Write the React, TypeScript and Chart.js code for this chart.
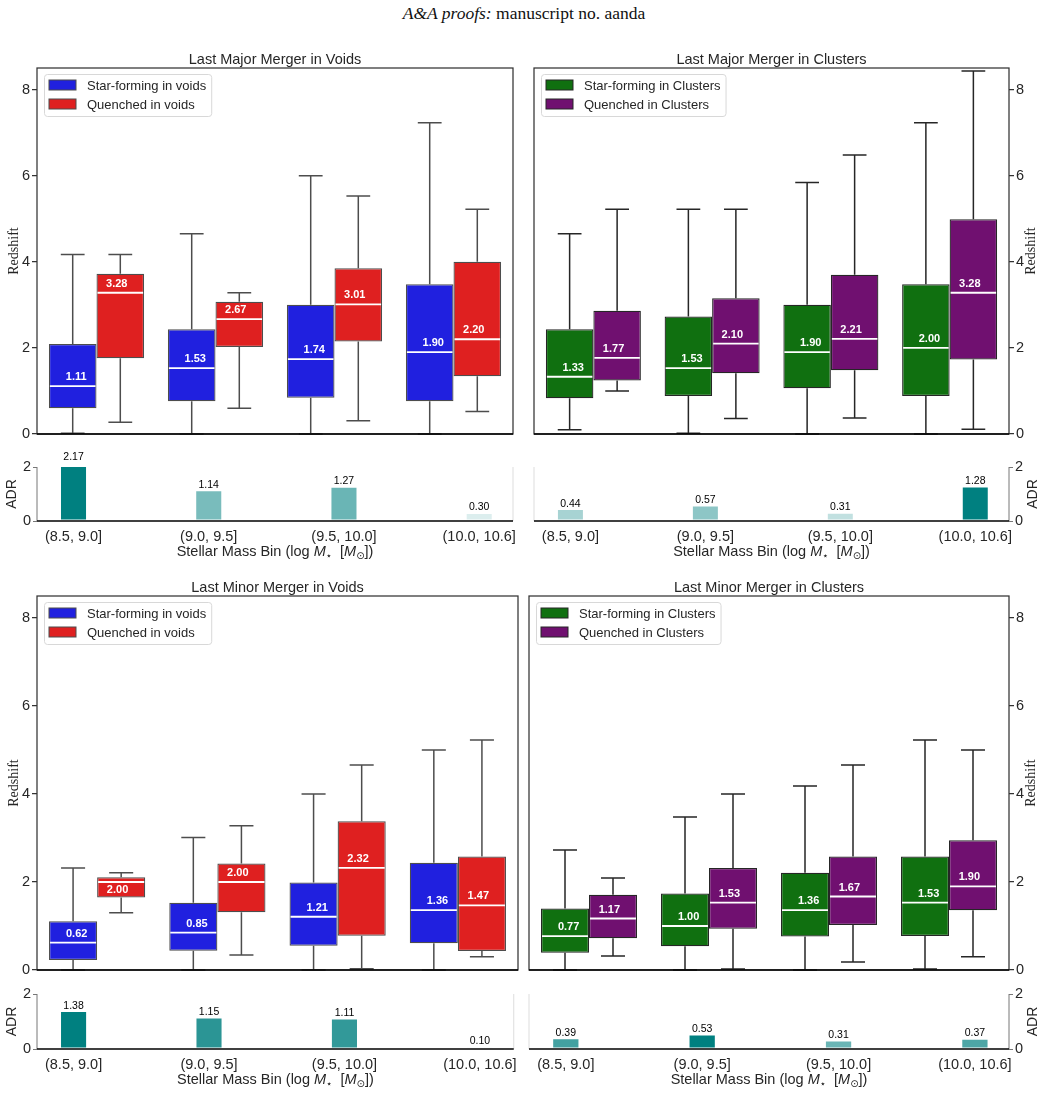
import React, { useEffect, useRef } from "react";
import { Chart, registerables } from "chart.js";

Chart.register(...registerables);

// ---------------- DATA ----------------
const massBins = ["(8.5, 9.0]", "(9.0, 9.5]", "(9.5, 10.0]", "(10.0, 10.6]"];
const redshiftTicks = [0, 2, 4, 6, 8];
const adrTicks = [0, 2];

// one row per mass bin: [lower whisker, Q1, median, Q3, upper whisker]
const majorVoidsStarForming = [
  [0.02, 0.6, 1.11, 2.09, 4.17],
  [0.0, 0.76, 1.53, 2.43, 4.65],
  [0.0, 0.84, 1.74, 3.0, 6.0],
  [0.0, 0.76, 1.9, 3.48, 7.23],
];
const majorVoidsQuenched = [
  [0.27, 1.76, 3.28, 3.72, 4.17],
  [0.6, 2.02, 2.67, 3.07, 3.28],
  [0.31, 2.15, 3.01, 3.85, 5.53],
  [0.52, 1.34, 2.2, 4.0, 5.22],
];
const majorClustersStarForming = [
  [0.1, 0.83, 1.33, 2.43, 4.65],
  [0.02, 0.88, 1.53, 2.73, 5.22],
  [0.0, 1.06, 1.9, 3.0, 5.84],
  [0.0, 0.88, 2.0, 3.48, 7.23],
];
const majorClustersQuenched = [
  [1.0, 1.24, 1.77, 2.86, 5.22],
  [0.36, 1.41, 2.1, 3.15, 5.22],
  [0.37, 1.48, 2.21, 3.7, 6.48],
  [0.11, 1.73, 3.28, 4.99, 8.43],
];
const minorVoidsStarForming = [
  [0.0, 0.23, 0.62, 1.11, 2.32],
  [0.0, 0.44, 0.85, 1.53, 3.01],
  [0.0, 0.55, 1.21, 1.99, 4.0],
  [0.0, 0.61, 1.36, 2.44, 5.0],
];
const minorVoidsQuenched = [
  [1.3, 1.65, 2.0, 2.11, 2.21],
  [0.34, 1.31, 2.0, 2.42, 3.28],
  [0.03, 0.78, 2.32, 3.38, 4.66],
  [0.3, 0.43, 1.47, 2.58, 5.23],
];
const minorClustersStarForming = [
  [0.0, 0.39, 0.77, 1.4, 2.73],
  [0.0, 0.54, 1.0, 1.74, 3.48],
  [0.0, 0.76, 1.36, 2.21, 4.18],
  [0.02, 0.77, 1.53, 2.58, 5.23],
];
const minorClustersQuenched = [
  [0.32, 0.72, 1.17, 1.71, 2.09],
  [0.02, 0.94, 1.53, 2.32, 4.0],
  [0.18, 1.02, 1.67, 2.58, 4.66],
  [0.3, 1.36, 1.9, 2.95, 5.0],
];

const majorVoidsADR = [2.17, 1.14, 1.27, 0.3];
const majorClustersADR = [0.44, 0.57, 0.31, 1.28];
const minorVoidsADR = [1.38, 1.15, 1.11, 0.1];
const minorClustersADR = [0.39, 0.53, 0.31, 0.37];

// ---------------- STYLE ----------------
const SANS = "'Liberation Sans', Arial, Helvetica, sans-serif";
const SERIF = "'Liberation Serif', 'Times New Roman', serif";
const TEXT = "#262626";
const BLUE = "rgb(32,32,223)";
const RED = "rgb(223,32,32)";
const GREEN = "rgb(16,112,16)";
const PURPLE = "rgb(112,16,112)";
const EDGE_VOID = "#4d4d4d";
const EDGE_CLUSTER = "#262626";

type Rect = { left: number; top: number; width: number; height: number };

function drawRotated(ctx: any, text: string, x: number, y: number, font: string) {
  ctx.save();
  ctx.translate(x, y);
  ctx.rotate(-Math.PI / 2);
  ctx.font = font;
  ctx.fillStyle = TEXT;
  ctx.textAlign = "center";
  ctx.textBaseline = "middle";
  ctx.fillText(text, 0, 0);
  ctx.restore();
}

function drawMassTitle(ctx: any, cx: number, baseline: number) {
  const base = `14.5px ${SANS}`;
  const ital = `italic 14.5px ${SANS}`;
  const sub = `10px 'DejaVu Sans', sans-serif`;
  const parts: [string, string, number][] = [
    ["Stellar Mass Bin (log ", base, 0],
    ["M", ital, 0],
    ["\u22C6", sub, 3],
    ["  [", base, 0],
    ["M", ital, 0],
    ["\u2299", sub, 3],
    ["])", base, 0],
  ];
  ctx.save();
  let total = 0;
  const widths = parts.map(([t, f]) => {
    ctx.font = f;
    const w = ctx.measureText(t).width;
    total += w;
    return w;
  });
  let x = cx - total / 2;
  ctx.fillStyle = TEXT;
  ctx.textAlign = "left";
  ctx.textBaseline = "alphabetic";
  parts.forEach(([t, f, dy], i) => {
    ctx.font = f;
    ctx.fillText(t, x, baseline + dy);
    x += widths[i];
  });
  ctx.restore();
}

function drawLegend(ctx: any, area: any, datasets: any[], edge: string) {
  ctx.save();
  ctx.font = `13px ${SANS}`;
  const tw = Math.max(...datasets.map((d) => ctx.measureText(d.label).width));
  const x0 = area.left + 7;
  const y0 = area.top + 6;
  const w = 5 + 27 + 11 + tw + 5;
  const h = 42;
  ctx.beginPath();
  ctx.roundRect(x0 + 0.5, y0 + 0.5, w, h, 3);
  ctx.fillStyle = "rgba(255,255,255,0.8)";
  ctx.fill();
  ctx.strokeStyle = "#d8d8d8";
  ctx.lineWidth = 1;
  ctx.stroke();
  datasets.forEach((d, k) => {
    const cy = y0 + 11 + k * 19;
    ctx.fillStyle = d.backgroundColor;
    ctx.fillRect(x0 + 5, cy - 5, 27, 10);
    ctx.strokeStyle = edge;
    ctx.lineWidth = 1;
    ctx.strokeRect(x0 + 5, cy - 5, 27, 10);
    ctx.fillStyle = TEXT;
    ctx.textAlign = "left";
    ctx.textBaseline = "alphabetic";
    ctx.fillText(d.label, x0 + 43, cy + 4.7);
  });
  ctx.restore();
}

function makeBoxPlugin(cfg: any) {
  return {
    id: "boxdecor",
    afterDatasetsDraw(chart: any) {
      const ctx = chart.ctx;
      const ys = chart.scales.y;
      const xs = chart.scales.x;
      chart.data.datasets.forEach((ds: any, i: number) => {
        const meta = chart.getDatasetMeta(i);
        meta.data.forEach((el: any, j: number) => {
          const [lo, q1, med, q3, hi] = ds.stats[j];
          const { x, width } = el.getProps(["x", "width"], true);
          const yLo = ys.getPixelForValue(lo);
          const yQ1 = ys.getPixelForValue(q1);
          const yMed = ys.getPixelForValue(med);
          const yQ3 = ys.getPixelForValue(q3);
          const yHi = ys.getPixelForValue(hi);
          ctx.save();
          ctx.strokeStyle = cfg.edge;
          ctx.lineWidth = 1.5;
          ctx.beginPath();
          ctx.moveTo(x, yQ3);
          ctx.lineTo(x, yHi);
          ctx.moveTo(x, yQ1);
          ctx.lineTo(x, yLo);
          ctx.moveTo(x - width / 4, yHi);
          ctx.lineTo(x + width / 4, yHi);
          ctx.moveTo(x - width / 4, yLo);
          ctx.lineTo(x + width / 4, yLo);
          ctx.stroke();
          ctx.strokeStyle = "#ffffff";
          ctx.lineWidth = 1.8;
          ctx.beginPath();
          ctx.moveTo(x - width / 2 + 1, yMed);
          ctx.lineTo(x + width / 2 - 1, yMed);
          ctx.stroke();
          const gc = xs.getPixelForValue(j);
          const lx = gc + (x - gc) * 0.85;
          ctx.font = `bold 11px ${SANS}`;
          ctx.fillStyle = "#ffffff";
          ctx.textAlign = "center";
          ctx.textBaseline = "alphabetic";
          const above = yMed - yQ3 >= 14;
          ctx.fillText(med.toFixed(2), lx, above ? yMed - 6 : yMed + 11);
          ctx.restore();
        });
      });
    },
    afterDraw(chart: any) {
      const ctx = chart.ctx;
      const a = chart.chartArea;
      ctx.save();
      ctx.strokeStyle = "#333333";
      ctx.lineWidth = 1.25;
      ctx.strokeRect(a.left, a.top, a.right - a.left, a.bottom - a.top);
      ctx.strokeStyle = "#000000";
      ctx.lineWidth = 1.6;
      ctx.beginPath();
      ctx.moveTo(a.left, a.bottom);
      ctx.lineTo(a.right, a.bottom);
      ctx.stroke();
      ctx.font = `14.5px ${SANS}`;
      ctx.fillStyle = TEXT;
      ctx.textAlign = "center";
      ctx.textBaseline = "alphabetic";
      ctx.fillText(cfg.title, (a.left + a.right) / 2, a.top - 4);
      ctx.restore();
      drawRotated(ctx, "Redshift", cfg.yTitleX, (a.top + a.bottom) / 2, `14px ${SERIF}`);
      drawLegend(ctx, a, chart.data.datasets, cfg.edge);
    },
  };
}

function makeAdrPlugin(cfg: any) {
  return {
    id: "adrdecor",
    afterDatasetsDraw(chart: any) {
      const ctx = chart.ctx;
      const ys = chart.scales.y;
      const meta = chart.getDatasetMeta(0);
      ctx.save();
      ctx.font = `10.5px ${SANS}`;
      ctx.fillStyle = "#000000";
      ctx.textAlign = "center";
      ctx.textBaseline = "alphabetic";
      meta.data.forEach((el: any, j: number) => {
        const v = cfg.values[j];
        ctx.fillText(v.toFixed(2), el.x, ys.getPixelForValue(v) - 2.5);
      });
      ctx.restore();
    },
    afterDraw(chart: any) {
      const ctx = chart.ctx;
      const a = chart.chartArea;
      ctx.save();
      ctx.lineWidth = 1;
      ctx.strokeStyle = cfg.side === "left" ? "#777777" : "#dddddd";
      ctx.beginPath();
      ctx.moveTo(a.left, a.top);
      ctx.lineTo(a.left, a.bottom);
      ctx.stroke();
      ctx.strokeStyle = cfg.side === "right" ? "#777777" : "#dddddd";
      ctx.beginPath();
      ctx.moveTo(a.right, a.top);
      ctx.lineTo(a.right, a.bottom);
      ctx.stroke();
      ctx.strokeStyle = "#000000";
      ctx.lineWidth = 1.5;
      ctx.beginPath();
      ctx.moveTo(a.left, a.bottom);
      ctx.lineTo(a.right, a.bottom);
      ctx.stroke();
      ctx.restore();
      drawRotated(ctx, "ADR", cfg.yTitleX, (a.top + a.bottom) / 2, `14px ${SANS}`);
      drawMassTitle(ctx, (a.left + a.right) / 2, a.bottom + 35);
    },
  };
}

function boxConfig(p: any) {
  return {
    type: "bar",
    data: {
      labels: massBins,
      datasets: p.series.map((s: any) => ({
        label: s.label,
        data: s.stats.map((r: number[]) => [r[1], r[3]]),
        stats: s.stats,
        backgroundColor: s.color,
        borderColor: p.edge,
        borderWidth: 1.25,
        borderSkipped: false,
        categoryPercentage: 0.8,
        barPercentage: 1.0,
      })),
    },
    options: {
      responsive: false,
      animation: false,
      events: [],
      layout: { padding: p.pad },
      plugins: {
        legend: { display: false },
        title: { display: false },
        tooltip: { enabled: false },
      },
      scales: {
        x: { type: "category", display: false, offset: true },
        y: {
          type: "linear",
          position: p.side,
          min: 0,
          max: 8.5,
          afterBuildTicks: (s: any) => {
            s.ticks = redshiftTicks.map((v) => ({ value: v }));
          },
          afterFit: (s: any) => {
            s.width = 31;
          },
          ticks: { font: { family: SANS, size: 14.5 }, color: TEXT, padding: 2 },
          grid: {
            display: true,
            drawOnChartArea: false,
            drawTicks: true,
            tickLength: 5,
            color: "#333333",
            lineWidth: 1.25,
          },
          border: { display: false },
        },
      },
    },
    plugins: [makeBoxPlugin(p)],
  };
}

function adrConfig(p: any) {
  const max = Math.max(...p.values);
  return {
    type: "bar",
    data: {
      datasets: [
        {
          data: p.values.map((v: number, i: number) => ({ x: i, y: v })),
          backgroundColor: p.values.map((v: number) => `rgba(0,128,128,${v / max})`),
          borderColor: "rgba(255,255,255,0.45)",
          borderWidth: 1,
          borderSkipped: false,
          categoryPercentage: 1,
          barPercentage: 0.2,
          clip: 0,
        },
      ],
    },
    options: {
      responsive: false,
      animation: false,
      events: [],
      layout: { padding: p.pad },
      plugins: {
        legend: { display: false },
        title: { display: false },
        tooltip: { enabled: false },
      },
      scales: {
        x: {
          type: "linear",
          min: -0.27,
          max: 3.25,
          offset: false,
          afterBuildTicks: (s: any) => {
            s.ticks = massBins.map((_, i) => ({ value: i }));
          },
          afterFit: (s: any) => {
            s.height = 40;
          },
          ticks: {
            callback: (v: any) => massBins[Math.round(v)],
            font: { family: SANS, size: 14.5 },
            color: TEXT,
            padding: 7,
            autoSkip: false,
            maxRotation: 0,
          },
          grid: { display: false, drawTicks: false, offset: false },
          border: { display: false },
        },
        y: {
          type: "linear",
          position: p.side,
          min: 0,
          max: 2,
          afterBuildTicks: (s: any) => {
            s.ticks = adrTicks.map((v) => ({ value: v }));
          },
          afterFit: (s: any) => {
            s.width = 31;
          },
          ticks: { font: { family: SANS, size: 14.5 }, color: TEXT, padding: 2 },
          grid: {
            display: true,
            drawOnChartArea: false,
            drawTicks: true,
            tickLength: 4,
            color: "#777777",
            lineWidth: 1,
          },
          border: { display: false },
        },
      },
    },
    plugins: [makeAdrPlugin(p)],
  };
}

function ChartCanvas({ rect, make }: { rect: Rect; make: () => any }) {
  const ref = useRef<HTMLCanvasElement>(null);
  useEffect(() => {
    const chart = new Chart(ref.current as HTMLCanvasElement, make());
    return () => chart.destroy();
  }, []);
  return (
    <canvas
      ref={ref}
      width={rect.width}
      height={rect.height}
      style={{ position: "absolute", left: rect.left, top: rect.top, width: rect.width, height: rect.height }}
    />
  );
}

const panels: { rect: Rect; make: () => any }[] = [
  {
    rect: { left: 0, top: 40, width: 524, height: 405 },
    make: () =>
      boxConfig({
        title: "Last Major Merger in Voids",
        side: "left",
        edge: EDGE_VOID,
        yTitleX: 14,
        pad: { left: 6, top: 28, right: 11, bottom: 11 },
        series: [
          { label: "Star-forming in voids", color: BLUE, stats: majorVoidsStarForming },
          { label: "Quenched in voids", color: RED, stats: majorVoidsQuenched },
        ],
      }),
  },
  {
    rect: { left: 524, top: 40, width: 520, height: 405 },
    make: () =>
      boxConfig({
        title: "Last Major Merger in Clusters",
        side: "right",
        edge: EDGE_CLUSTER,
        yTitleX: 507.5,
        pad: { left: 10, top: 28, right: 4, bottom: 11 },
        series: [
          { label: "Star-forming in Clusters", color: GREEN, stats: majorClustersStarForming },
          { label: "Quenched in Clusters", color: PURPLE, stats: majorClustersQuenched },
        ],
      }),
  },
  {
    rect: { left: 0, top: 445, width: 524, height: 125 },
    make: () =>
      adrConfig({ values: majorVoidsADR, side: "left", yTitleX: 12, pad: { left: 6, top: 22, right: 11, bottom: 9 } }),
  },
  {
    rect: { left: 524, top: 445, width: 520, height: 125 },
    make: () =>
      adrConfig({ values: majorClustersADR, side: "right", yTitleX: 509, pad: { left: 10, top: 22, right: 4, bottom: 9 } }),
  },
  {
    rect: { left: 0, top: 570, width: 524, height: 411 },
    make: () =>
      boxConfig({
        title: "Last Minor Merger in Voids",
        side: "left",
        edge: EDGE_VOID,
        yTitleX: 14,
        pad: { left: 6, top: 26, right: 6, bottom: 11 },
        series: [
          { label: "Star-forming in voids", color: BLUE, stats: minorVoidsStarForming },
          { label: "Quenched in voids", color: RED, stats: minorVoidsQuenched },
        ],
      }),
  },
  {
    rect: { left: 524, top: 570, width: 520, height: 411 },
    make: () =>
      boxConfig({
        title: "Last Minor Merger in Clusters",
        side: "right",
        edge: EDGE_CLUSTER,
        yTitleX: 507.5,
        pad: { left: 5, top: 26, right: 4, bottom: 11 },
        series: [
          { label: "Star-forming in Clusters", color: GREEN, stats: minorClustersStarForming },
          { label: "Quenched in Clusters", color: PURPLE, stats: minorClustersQuenched },
        ],
      }),
  },
  {
    rect: { left: 0, top: 981, width: 524, height: 113 },
    make: () =>
      adrConfig({ values: minorVoidsADR, side: "left", yTitleX: 12, pad: { left: 6, top: 13, right: 6, bottom: 5 } }),
  },
  {
    rect: { left: 524, top: 981, width: 520, height: 113 },
    make: () =>
      adrConfig({ values: minorClustersADR, side: "right", yTitleX: 509, pad: { left: 5, top: 13, right: 4, bottom: 5 } }),
  },
];

export default function App() {
  return (
    <div style={{ position: "absolute", left: 0, top: 0, width: 1044, height: 1094, background: "#ffffff", overflow: "hidden" }}>
      <div
        style={{
          position: "absolute",
          left: 0,
          top: 3,
          width: 1048,
          textAlign: "center",
          fontFamily: SERIF,
          fontSize: 17.5,
          lineHeight: "20px",
          color: "#111",
        }}
      >
        <i>A&amp;A proofs:</i> manuscript no. aanda
      </div>
      {panels.map((p, i) => (
        <ChartCanvas key={i} rect={p.rect} make={p.make} />
      ))}
    </div>
  );
}
